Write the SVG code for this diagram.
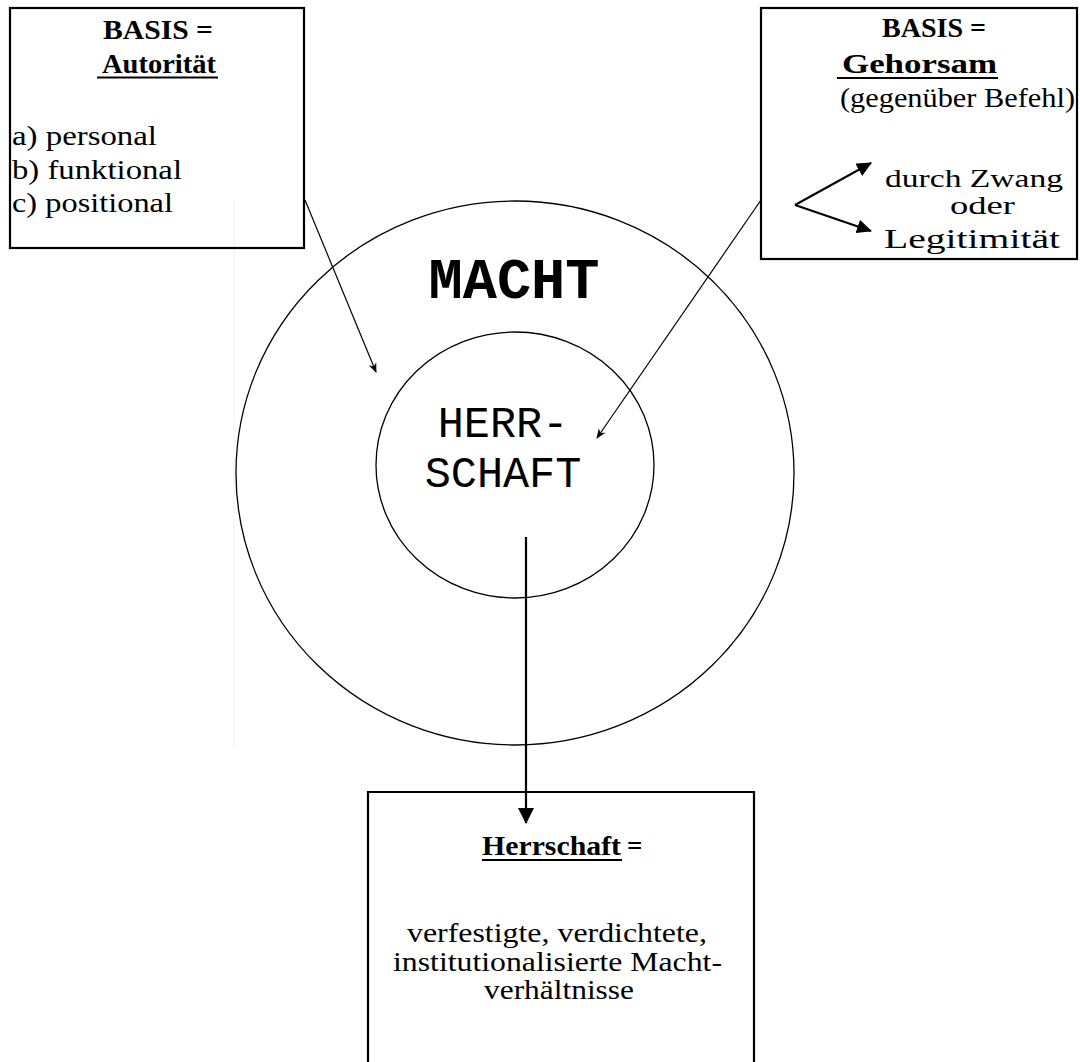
<svg xmlns="http://www.w3.org/2000/svg" width="1080" height="1062" viewBox="0 0 1080 1062">
<defs>
<style>
.box{fill:none;stroke:#000;stroke-width:2.2}
.t{font-family:"Liberation Serif","Times New Roman",serif;font-size:27px;fill:#000}
.s{font-size:25px}
.b{font-weight:bold}
.m{font-family:"Liberation Mono","Courier New",monospace;fill:#000}
.ul{stroke:#000;stroke-width:2}
.ring{fill:none;stroke:#000;stroke-width:1.3}
.thin{stroke:#000;stroke-width:1.2;fill:none}
</style>
<marker id="ah" markerWidth="10" markerHeight="10" refX="9" refY="5" orient="auto" markerUnits="userSpaceOnUse">
<path d="M0,1 L10,5 L0,9 L3,5 Z" fill="#000"/>
</marker>
<marker id="ahm" markerWidth="15" markerHeight="14" refX="14" refY="7" orient="auto" markerUnits="userSpaceOnUse">
<path d="M0,0 L15,7 L0,14 Z" fill="#000"/>
</marker>
<marker id="ahb" markerWidth="16" markerHeight="16" refX="15" refY="8" orient="auto" markerUnits="userSpaceOnUse">
<path d="M0,0 L16,8 L0,16 Z" fill="#000"/>
</marker>
</defs>
<rect width="1080" height="1062" fill="#fff"/>
<line x1="234" y1="199" x2="234" y2="748" stroke="#f0f0f0" stroke-width="1"/>

<g id="macht">
<ellipse class="ring" cx="515" cy="473" rx="279" ry="272"/>
<text class="m" x="514" y="298" font-size="57" font-weight="bold" text-anchor="middle">MACHT</text>
</g>

<g id="herrschaft-kreis">
<ellipse class="ring" cx="515" cy="465" rx="139" ry="133"/>
<text class="m" x="503" y="437" font-size="43.5" text-anchor="middle">HERR-</text>
<text class="m" x="503" y="487" font-size="43.5" text-anchor="middle">SCHAFT</text>
</g>

<g id="autoritaet">
<rect class="box" x="10" y="8" width="294" height="240"/>
<text class="t b" x="103" y="39" textLength="110" lengthAdjust="spacingAndGlyphs">BASIS =</text>
<text class="t b" x="102" y="73" textLength="114" lengthAdjust="spacingAndGlyphs">Autorität</text>
<line class="ul" x1="97" y1="77.5" x2="218" y2="77.5"/>
<text class="t" x="12" y="145" textLength="145" lengthAdjust="spacingAndGlyphs">a) personal</text>
<text class="t" x="12" y="179" textLength="170" lengthAdjust="spacingAndGlyphs">b) funktional</text>
<text class="t" x="12" y="212" textLength="161" lengthAdjust="spacingAndGlyphs">c) positional</text>
</g>

<g id="gehorsam">
<rect class="box" x="761" y="8" width="316" height="251"/>
<text class="t b" x="882" y="37" textLength="104" lengthAdjust="spacingAndGlyphs">BASIS =</text>
<text class="t b" x="842" y="73" textLength="155" lengthAdjust="spacingAndGlyphs">Gehorsam</text>
<line class="ul" x1="837" y1="78" x2="998" y2="78"/>
<text class="t" x="840" y="107" textLength="235" lengthAdjust="spacingAndGlyphs">(gegenüber Befehl)</text>
<text class="t s" x="885" y="187" textLength="178" lengthAdjust="spacingAndGlyphs">durch Zwang</text>
<text class="t s" x="950" y="214" textLength="65" lengthAdjust="spacingAndGlyphs">oder</text>
<text class="t" x="884" y="248" textLength="176" lengthAdjust="spacingAndGlyphs">Legitimität</text>
<g stroke="#000" stroke-width="2" fill="none">
<line x1="795" y1="205" x2="871" y2="163" marker-end="url(#ahm)"/>
<line x1="795" y1="205" x2="871" y2="231" marker-end="url(#ahm)"/>
</g>
</g>

<g id="herrschaft-definition">
<path class="box" d="M368,1070 V792 H754 V1070"/>
<text class="t b" x="482" y="855" textLength="139" lengthAdjust="spacingAndGlyphs">Herrschaft</text>
<line class="ul" x1="482" y1="860" x2="622" y2="860"/>
<text class="t b" x="627" y="855">=</text>
<text class="t" x="407" y="942" textLength="300" lengthAdjust="spacingAndGlyphs">verfestigte, verdichtete,</text>
<text class="t" x="393" y="971" textLength="329" lengthAdjust="spacingAndGlyphs">institutionalisierte Macht-</text>
<text class="t" x="484" y="999" textLength="150" lengthAdjust="spacingAndGlyphs">verhältnisse</text>
</g>

<g id="connectors">
<line class="thin" x1="305" y1="200" x2="376" y2="372" marker-end="url(#ah)"/>
<line class="thin" x1="761" y1="200" x2="597" y2="438" marker-end="url(#ah)"/>
<line x1="526" y1="537" x2="526" y2="823" stroke="#000" stroke-width="2.2" marker-end="url(#ahb)"/>
</g>
</svg>
